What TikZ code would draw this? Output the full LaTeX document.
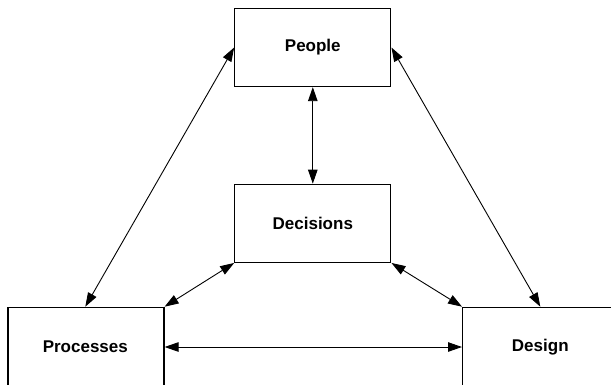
\documentclass[tikz,border=0pt]{standalone}
\usepackage{fontspec}
\setmainfont{Liberation Sans}
\usetikzlibrary{arrows.meta}
\begin{document}
\begin{tikzpicture}[x=1pt,y=-1pt,
  boxfont/.style={font=\fontsize{17}{20}\selectfont\bfseries},
  box/.style={draw,line width=1.3pt,minimum width=156pt,minimum height=78pt,
    inner sep=0pt,boxfont},
  openbox/.style={draw,line width=1.3pt,minimum width=200pt,minimum height=120pt,
    inner sep=0pt,anchor=north west},
  boxlabel/.style={inner sep=0pt,boxfont},
  link/.style={line width=0.9pt,{Triangle[length=14pt,width=9.5pt]}-{Triangle[length=14pt,width=9.5pt]}}]
\useasboundingbox (0,0) rectangle (611,384);
\clip (0,0) rectangle (611,384);
% upper boxes
\node[box] (people) at (312.8,47.5) {People};
\node[box] (decisions) at (312.8,223.3) {Decisions};
% lower boxes run past the page edge
\node[openbox,minimum width=156pt] (processes) at (7.3,306.7) {};
\node[boxlabel] (processeslabel) at (85.3,347) {Processes};
\node[openbox] (design) at (462,306.7) {};
\node[boxlabel] (designlabel) at (540.3,347) {Design};
% connectors
\draw[link] (people.west) -- (processeslabel |- processes.north);
\draw[link] (people.east) -- (designlabel |- design.north);
\draw[link] (people.south) -- (decisions.north);
\draw[link] (decisions.south west) -- (processes.north east);
\draw[link] (decisions.south east) -- (design.north west);
\draw[link] (processeslabel -| processes.east) -- (designlabel -| design.west);
\end{tikzpicture}
\end{document}
